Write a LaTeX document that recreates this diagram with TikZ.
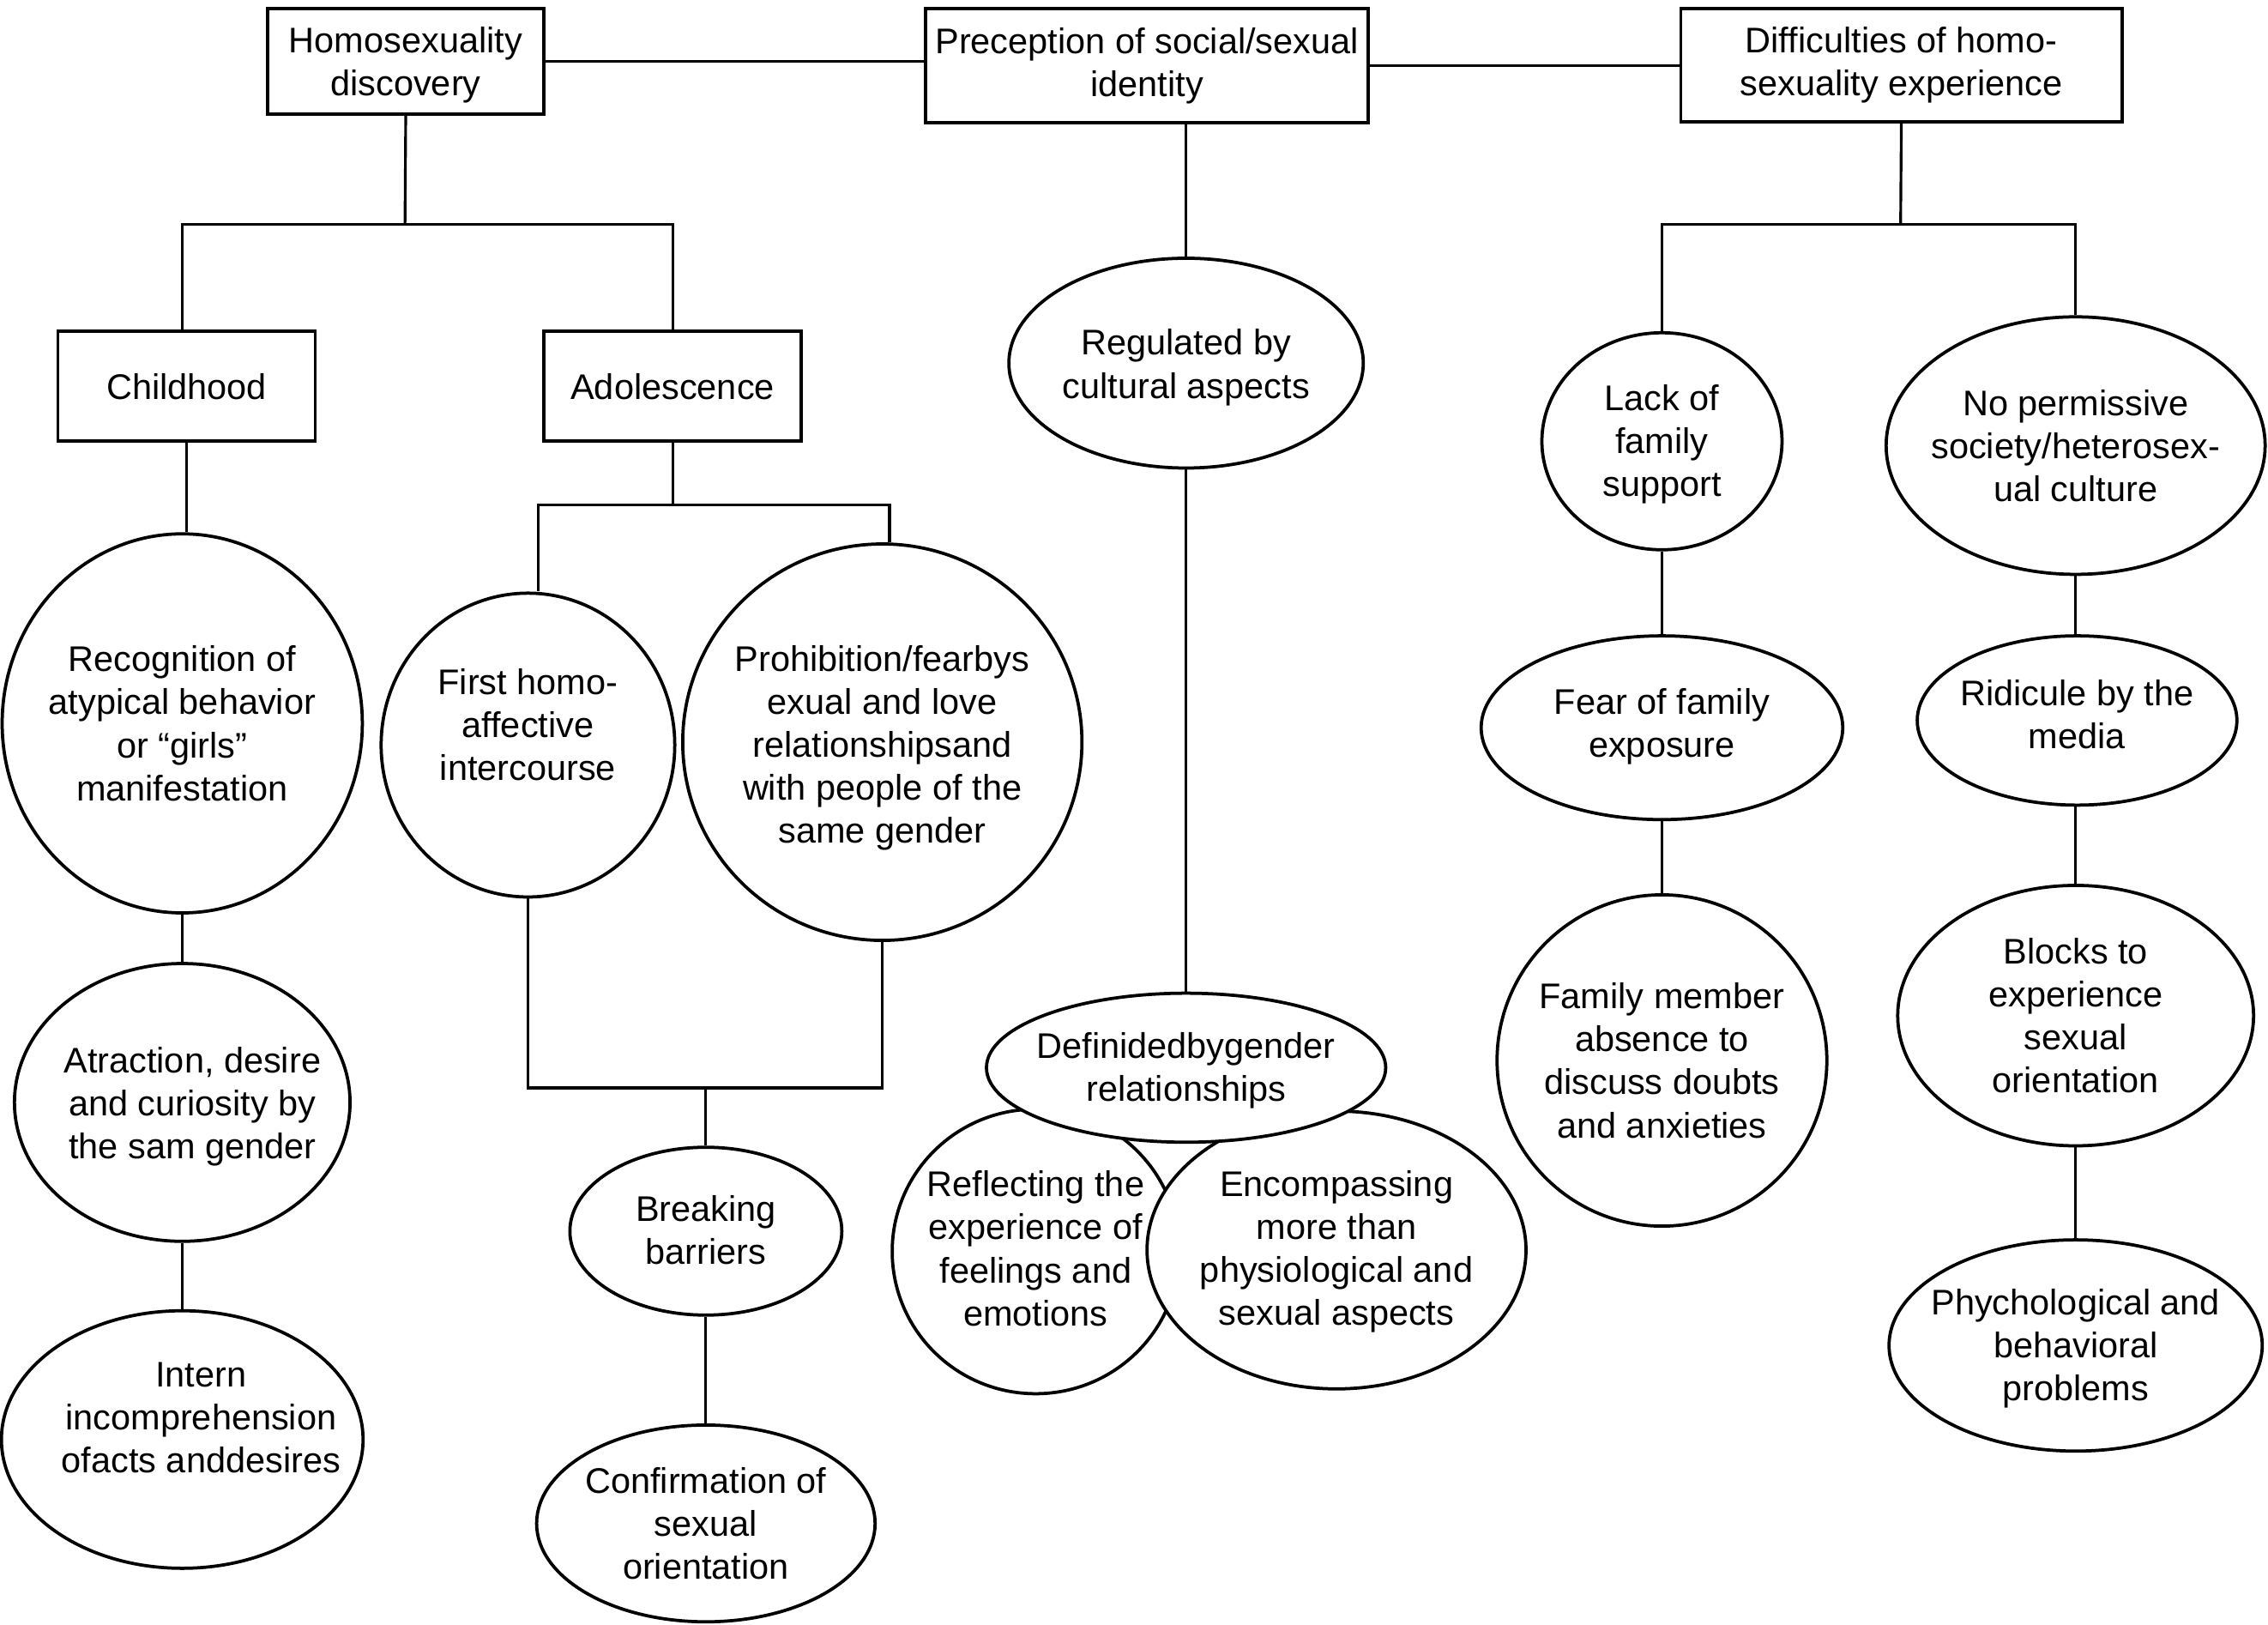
\documentclass[tikz,border=0pt]{standalone}
\usepackage{fontspec}
\setmainfont{Liberation Sans}
\usetikzlibrary{shapes.geometric}
\begin{document}
\begin{tikzpicture}[x=0.03cm,y=-0.03cm,
  box/.style={draw,line width=1.9pt,rectangle,inner sep=0pt,align=center,font=\fontsize{21}{25.4}\selectfont},
  ell/.style={draw,line width=1.9pt,ellipse,inner sep=0pt,fill=white},
  txt/.style={inner sep=0pt,align=center,font=\fontsize{21}{25.4}\selectfont},
  conn/.style={line width=1.6pt}]
\useasboundingbox[fill=white] (0,0) rectangle (1568,1123);

% boxes
\node[box,minimum width=5.73cm,minimum height=2.19cm] (hd) at (280.5,42.5) {};
\node[txt] (hdT) at (280.5,45) {Homosexuality\\discovery};
\node[box,minimum width=9.18cm,minimum height=2.37cm] (ps) at (793,45.5) {Preception of social/sexual\\identity};
\node[box,minimum width=9.15cm,minimum height=2.34cm] (dif) at (1314.5,45) {Difficulties of homo-\\sexuality experience};
\node[box,minimum width=5.34cm,minimum height=2.28cm] (ch) at (129,267) {Childhood};
\node[box,minimum width=5.34cm,minimum height=2.28cm] (ad) at (465,267) {Adolescence};

% left column ellipses
\node[ell,minimum width=7.47cm,minimum height=7.86cm] (rec) at (126,500) {};
\node[txt] (recT) at (126,500) {Recognition of\\atypical behavior\\or “girls”\\manifestation};
\node[ell,minimum width=6.96cm,minimum height=5.76cm] (atr) at (126,762) {};
\node[txt] (atrT) at (133,765) {Atraction, desire\\and curiosity by\\the sam gender};
\node[ell,minimum width=7.5cm,minimum height=5.34cm] (int) at (126,995) {};
\node[txt] (intT) at (139,980) {Intern\\incomprehension\\ofacts anddesires};

% adolescence branch
\node[ell,minimum width=6.09cm,minimum height=6.3cm] (first) at (365,515) {};
\node[txt] (firstT) at (365,501) {First homo-\\affective\\intercourse};
\node[ell,minimum width=8.28cm,minimum height=8.22cm] (proh) at (610,513) {};
\node[txt] (prohT) at (610,517) {Prohibition/fearbys\\exual and love\\relationshipsand\\with people of the\\same gender};
\node[ell,minimum width=5.64cm,minimum height=3.48cm] (br) at (488,851) {};
\node[txt] (brT) at (488,850) {Breaking\\barriers};
\node[ell,minimum width=7.02cm,minimum height=4.08cm] (conf) at (488,1053) {};
\node[txt] (confT) at (488,1053) {Confirmation of\\sexual\\orientation};

% middle
\node[ell,minimum width=7.35cm,minimum height=4.35cm] (reg) at (820,251) {};
\node[txt] (regT) at (820,254) {Regulated by\\cultural aspects};
\node[ell,minimum width=5.95cm,minimum height=5.9cm] (refl) at (716,865) {};
\node[ell,minimum width=7.86cm,minimum height=5.76cm] (enc) at (924,864) {};
\node[ell,minimum width=8.28cm,minimum height=3.09cm] (def) at (820,738) {};
\node[txt] (defT) at (820,740) {Definidedbygender\\relationships};
\node[txt] (reflT) at (716,863) {Reflecting the\\experience of\\feelings and\\emotions};
\node[txt] (encT) at (924,865) {Encompassing\\more than\\physiological and\\sexual aspects};

% right: family
\node[ell,minimum width=4.98cm,minimum height=4.5cm] (lack) at (1149,305) {};
\node[txt] (lackT) at (1149,307) {Lack of\\family\\support};
\node[ell,minimum width=7.5cm,minimum height=3.81cm] (fear) at (1149,503) {};
\node[txt] (fearT) at (1149,502) {Fear of family\\exposure};
\node[ell,minimum width=6.84cm,minimum height=6.87cm] (fam) at (1149,733) {};
\node[txt] (famT) at (1149,733) {Family member\\absence to\\discuss doubts\\and anxieties};

% right: society
\node[ell,minimum width=7.86cm,minimum height=5.34cm] (nop) at (1435,308) {};
\node[txt] (nopT) at (1435,308) {No permissive\\society/heterosex-\\ual culture};
\node[ell,minimum width=6.63cm,minimum height=3.51cm] (rid) at (1436,498) {};
\node[txt] (ridT) at (1436,494) {Ridicule by the\\media};
\node[ell,minimum width=7.38cm,minimum height=5.4cm] (blk) at (1435,702) {};
\node[txt] (blkT) at (1435,702) {Blocks to\\experience\\sexual\\orientation};
\node[ell,minimum width=7.74cm,minimum height=4.38cm] (phy) at (1435,930) {};
\node[txt] (phyT) at (1435,932) {Phychological and\\behavioral\\problems};

% junction coordinates
\coordinate (hdj) at (280,155);
\coordinate (adj) at (465,349);
\coordinate (brj) at (488,752);
\coordinate (difj) at (1314,155);

% connectors
\draw[conn] (hd.east) -- (hd.east -| ps.west);
\draw[conn] (ps.east) -- (ps.east -| dif.west);
\draw[conn] (hd.south) -- (hdj);
\draw[conn] ([xshift=-0.09cm]ch.north) |- (hdj) -| (ad.north);
\draw[conn] (ch.south) -- (ch.south |- rec.north);
\draw[conn] (rec.south) -- (atr.north);
\draw[conn] (atr.south) -- (int.north);
\draw[conn] (ad.south) -- (adj);
\draw[conn] ([xshift=0.21cm]first.north) |- (adj) -| ([xshift=0.15cm]proh.north);
\draw[conn] (first.south) |- (brj) -| (proh.south);
\draw[conn] (brj) -- (br.north);
\draw[conn] (br.south) -- (conf.north);
\draw[conn] (ps.south -| reg.north) -- (reg.north);
\draw[conn] (reg.south) -- (def.north);
\draw[conn] (dif.south) -- (difj);
\draw[conn] (lack.north) |- (difj) -| (nop.north);
\draw[conn] (lack.south) -- (fear.north);
\draw[conn] (fear.south) -- (fam.north);
\draw[conn] (nop.south) -- (nop.south |- rid.north);
\draw[conn] (rid.south -| nop.south) -- (blk.north -| nop.south);
\draw[conn] (blk.south -| nop.south) -- (phy.north -| nop.south);
\end{tikzpicture}
\end{document}
